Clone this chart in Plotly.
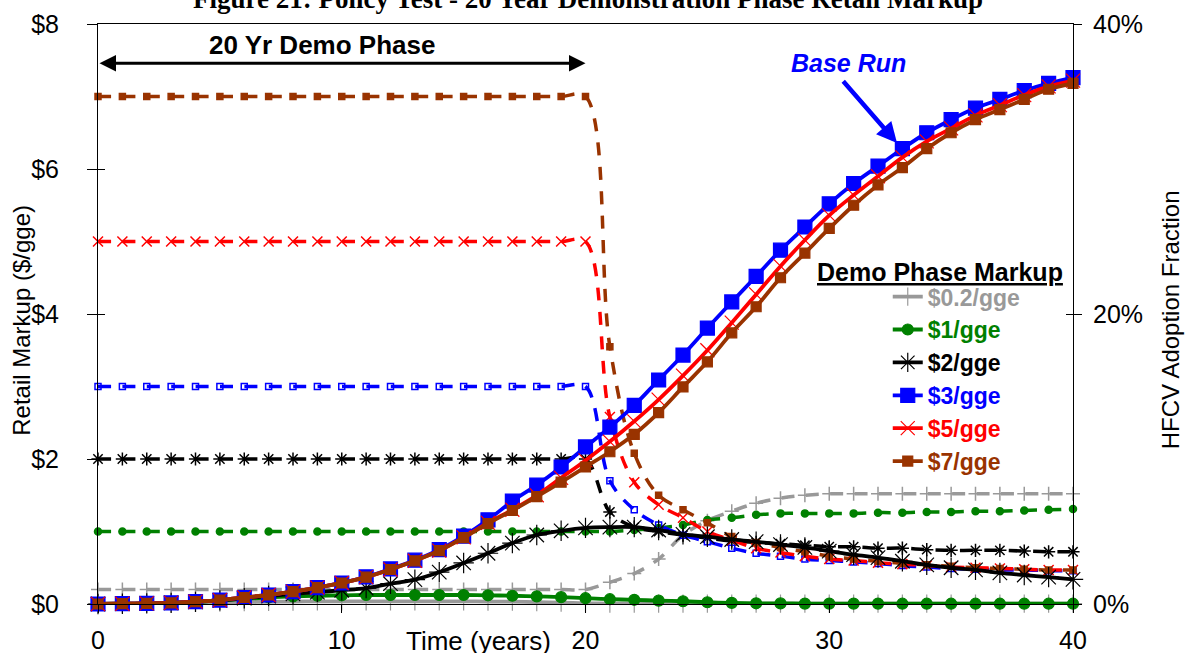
import plotly.graph_objects as go

# ---------------- data ----------------
years = list(range(41))
demo_years = 20

scenario_names = ["$0.2/gge", "$1/gge", "$2/gge", "$3/gge", "$5/gge", "$7/gge"]

# Retail markup ($/gge), left axis (dashed lines)
markup_02 = [0.20, 0.20, 0.20, 0.20, 0.20, 0.20, 0.20, 0.20, 0.20, 0.20, 0.20,
             0.20, 0.20, 0.20, 0.20, 0.20, 0.20, 0.20, 0.20, 0.20, 0.20,
             0.30, 0.42, 0.62, 0.95, 1.15, 1.28, 1.39, 1.46, 1.50, 1.52,
             1.52, 1.52, 1.52, 1.52, 1.52, 1.52, 1.52, 1.52, 1.52, 1.52]
markup_1 = [1.00, 1.00, 1.00, 1.00, 1.00, 1.00, 1.00, 1.00, 1.00, 1.00, 1.00,
            1.00, 1.00, 1.00, 1.00, 1.00, 1.00, 1.00, 1.00, 1.00, 1.00,
            1.00, 1.02, 1.05, 1.09, 1.16, 1.19, 1.23, 1.25, 1.25, 1.25,
            1.25, 1.26, 1.26, 1.27, 1.27, 1.28, 1.28, 1.29, 1.30, 1.31]
markup_2 = [2.00, 2.00, 2.00, 2.00, 2.00, 2.00, 2.00, 2.00, 2.00, 2.00, 2.00,
            2.00, 2.00, 2.00, 2.00, 2.00, 2.00, 2.00, 2.00, 2.00, 2.00,
            1.27, 1.06, 1.00, 0.95, 0.91, 0.87, 0.85, 0.83, 0.81, 0.79,
            0.79, 0.77, 0.77, 0.75, 0.74, 0.74, 0.74, 0.73, 0.72, 0.72]
markup_3 = [3.00, 3.00, 3.00, 3.00, 3.00, 3.00, 3.00, 3.00, 3.00, 3.00, 3.00,
            3.00, 3.00, 3.00, 3.00, 3.00, 3.00, 3.00, 3.00, 3.00, 3.00,
            1.70, 1.30, 1.09, 0.95, 0.86, 0.77, 0.70, 0.66, 0.62, 0.60,
            0.58, 0.56, 0.53, 0.51, 0.49, 0.48, 0.47, 0.47, 0.46, 0.46]
markup_5 = [5.00, 5.00, 5.00, 5.00, 5.00, 5.00, 5.00, 5.00, 5.00, 5.00, 5.00,
            5.00, 5.00, 5.00, 5.00, 5.00, 5.00, 5.00, 5.00, 5.00, 5.00,
            2.58, 1.68, 1.37, 1.19, 1.00, 0.88, 0.77, 0.71, 0.66, 0.62,
            0.60, 0.57, 0.55, 0.53, 0.51, 0.50, 0.49, 0.48, 0.47, 0.47]
markup_7 = [7.00, 7.00, 7.00, 7.00, 7.00, 7.00, 7.00, 7.00, 7.00, 7.00, 7.00,
            7.00, 7.00, 7.00, 7.00, 7.00, 7.00, 7.00, 7.00, 7.00, 7.00,
            3.55, 2.08, 1.50, 1.30, 1.12, 0.93, 0.85, 0.78, 0.72, 0.66,
            0.62, 0.59, 0.56, 0.54, 0.52, 0.50, 0.49, 0.48, 0.47, 0.47]

# HFCV adoption fraction (%), right axis (solid lines)
adopt_02 = [0.00, 0.01, 0.02, 0.04, 0.07, 0.10, 0.13, 0.15, 0.17, 0.18, 0.18,
            0.18, 0.18, 0.18, 0.18, 0.18, 0.17, 0.16, 0.13, 0.10, 0.05,
            0.03, 0.02, 0.02, 0.02, 0.02, 0.02, 0.02, 0.02, 0.02, 0.02,
            0.02, 0.02, 0.02, 0.02, 0.02, 0.02, 0.02, 0.02, 0.02, 0.02]
adopt_1 = [0.00, 0.02, 0.04, 0.08, 0.15, 0.25, 0.36, 0.45, 0.52, 0.57, 0.60,
           0.62, 0.62, 0.62, 0.62, 0.62, 0.60, 0.57, 0.53, 0.47, 0.40,
           0.33, 0.29, 0.23, 0.19, 0.12, 0.08, 0.05, 0.04, 0.03, 0.03,
           0.03, 0.03, 0.02, 0.02, 0.02, 0.02, 0.02, 0.02, 0.02, 0.02]
adopt_2 = [0.00, 0.02, 0.04, 0.08, 0.15, 0.25, 0.40, 0.55, 0.70, 0.82, 0.95,
           1.10, 1.40, 1.68, 2.20, 2.83, 3.50, 4.20, 4.76, 5.05, 5.25,
           5.30, 5.30, 5.10, 4.80, 4.64, 4.45, 4.30, 4.10, 3.90, 3.65,
           3.40, 3.20, 2.95, 2.70, 2.50, 2.35, 2.15, 2.00, 1.85, 1.70]
adopt_3 = [0.00, 0.02, 0.04, 0.08, 0.16, 0.27, 0.45, 0.62, 0.85, 1.13, 1.45,
           1.87, 2.42, 3.02, 3.75, 4.68, 5.80, 7.10, 8.20, 9.45, 10.83,
           12.20, 13.70, 15.45, 17.17, 19.03, 20.83, 22.60, 24.40, 26.00, 27.60,
           29.00, 30.20, 31.40, 32.50, 33.40, 34.20, 34.80, 35.40, 35.90, 36.30]
adopt_5 = [0.00, 0.02, 0.04, 0.08, 0.16, 0.27, 0.45, 0.62, 0.85, 1.13, 1.45,
           1.85, 2.38, 2.98, 3.68, 4.60, 5.60, 6.50, 7.50, 8.70, 9.90,
           11.20, 12.60, 14.10, 15.75, 17.50, 19.40, 21.35, 23.30, 25.10, 26.80,
           28.20, 29.50, 30.80, 31.90, 32.80, 33.70, 34.40, 35.10, 35.70, 36.10]
adopt_7 = [0.00, 0.02, 0.04, 0.08, 0.16, 0.27, 0.45, 0.62, 0.85, 1.13, 1.45,
           1.85, 2.38, 2.98, 3.68, 4.58, 5.55, 6.45, 7.40, 8.40, 9.45,
           10.50, 11.70, 13.20, 14.97, 16.70, 18.70, 20.50, 22.50, 24.20, 25.90,
           27.50, 28.90, 30.10, 31.40, 32.50, 33.40, 34.10, 34.80, 35.50, 35.90]

markups = [markup_02, markup_1, markup_2, markup_3, markup_5, markup_7]
adoptions = [adopt_02, adopt_1, adopt_2, adopt_3, adopt_5, adopt_7]

# ---------------- styles ----------------
colors = ["#999999", "#008000", "#000000", "#0000FF", "#FF0000", "#993300"]
markup_symbols = ["cross-thin-open", "circle", "asterisk-open", "square-open", "x-thin-open", "square"]
markup_sizes = [10, 7, 11, 6, 10, 6]
adopt_symbols = ["cross-thin-open", "circle", "asterisk-open", "square", "x-thin-open", "square"]
adopt_sizes = [13, 11, 17, 14, 14, 10]
FONT = "Liberation Sans, Arial, sans-serif"

fig = go.Figure()

for i in range(6):
    fig.add_trace(go.Scatter(
        x=years, y=markups[i], yaxis="y", mode="lines+markers",
        line=dict(color=colors[i], width=3.5, dash="13px,11.4px", shape="spline"),
        marker=dict(symbol=markup_symbols[i], size=markup_sizes[i], color=colors[i],
                    line=dict(color=colors[i], width=1.5)),
        showlegend=False, cliponaxis=False, hoverinfo="skip"))

for i in range(6):
    fig.add_trace(go.Scatter(
        x=years, y=adoptions[i], yaxis="y2", mode="lines+markers",
        name='<span style="color:%s"><b>%s</b></span>' % (colors[i], scenario_names[i]),
        legendgroup="g%d" % i,
        line=dict(color=colors[i], width=3.8, shape="spline"),
        marker=dict(symbol=adopt_symbols[i], size=adopt_sizes[i], color=colors[i],
                    line=dict(color=colors[i], width=1.2)),
        cliponaxis=False, hoverinfo="skip"))

# empty helper traces so the inside halves of the cross ticks get drawn
fig.add_trace(go.Scatter(x=[], y=[], yaxis="y3", showlegend=False, hoverinfo="skip"))
fig.add_trace(go.Scatter(x=[], y=[], yaxis="y4", showlegend=False, hoverinfo="skip"))

axis_common = dict(showgrid=False, zeroline=False, linecolor="black", linewidth=1,
                   tickcolor="black", tickwidth=1, automargin=False)

fig.update_layout(
    width=1185, height=653,
    margin=dict(l=98, r=112, t=24, b=49, autoexpand=False),
    paper_bgcolor="white", plot_bgcolor="white",
    font=dict(family=FONT, size=25, color="black"),
    xaxis=dict(range=[0, 40], dtick=10, showline=True, mirror=True,
               ticks="outside", ticklen=8, ticklabelstandoff=6,
               tickfont=dict(size=25), **axis_common),
    yaxis=dict(range=[0, 8], dtick=2, tickprefix="$", showline=True,
               ticks="outside", ticklen=10, ticklabelstandoff=23,
               tickfont=dict(size=25), **axis_common),
    yaxis2=dict(range=[0, 40], dtick=20, ticksuffix="%", overlaying="y", side="right",
                showline=True, ticks="outside", ticklen=8, ticklabelstandoff=6,
                tickfont=dict(size=25), **axis_common),
    yaxis3=dict(range=[0, 8], dtick=2, overlaying="y", side="left", showline=False,
                ticks="inside", ticklen=7, showticklabels=False, automargin=False,
                showgrid=False, zeroline=False, tickcolor="black"),
    yaxis4=dict(range=[0, 40], dtick=20, overlaying="y", side="right", showline=False,
                ticks="inside", ticklen=7, showticklabels=False, automargin=False,
                showgrid=False, zeroline=False, tickcolor="black"),
    legend=dict(x=0.810, y=0.567, xanchor="left", yanchor="top",
                bgcolor="rgba(0,0,0,0)", font=dict(family=FONT, size=23),
                tracegroupgap=0, traceorder="normal"),
    showlegend=True,
)

annotations = [
    dict(text="<b>Figure 21: Policy Test - 20 Year Demonstration Phase Retail Markup</b>",
         xref="paper", yref="paper", x=0.5026, y=1.0431, xanchor="center", yanchor="middle",
         showarrow=False, font=dict(family="Liberation Serif, Times New Roman, serif", size=27)),
    dict(text="<b>20 Yr Demo Phase</b>", xref="x", yref="y", x=9.2, y=7.71,
         xanchor="center", yanchor="middle", showarrow=False, font=dict(size=26)),
    dict(text="", xref="x", yref="y", x=demo_years, y=7.46, axref="x", ayref="y", ax=0, ay=7.46,
         showarrow=True, arrowhead=2, startarrowhead=2, arrowside="end+start",
         arrowwidth=3, arrowsize=1.1, startarrowsize=1.1, arrowcolor="black", standoff=0, startstandoff=0),
    dict(text="<b><i>Base Run</i></b>", xref="x", yref="y", x=30.77, y=7.46,
         xanchor="center", yanchor="middle", showarrow=False, font=dict(size=25, color="#0000FF")),
    dict(text="", xref="x", yref="y", x=32.78, y=6.36, axref="x", ayref="y", ax=30.52, ay=7.23,
         showarrow=True, arrowhead=2, arrowwidth=4.5, arrowsize=0.9, arrowcolor="#0000FF", standoff=0),
    dict(text="<b><u>Demo Phase Markup</u></b>", xref="paper", yref="paper", x=0.8636, y=0.5724,
         xanchor="center", yanchor="middle", showarrow=False, font=dict(size=25)),
    dict(text="Time (years)", xref="x", yref="paper", x=15.6, y=-0.0638,
         xanchor="center", yanchor="middle", showarrow=False, font=dict(size=26)),
    dict(text="Retail Markup ($/gge)", xref="paper", yref="paper", x=-0.078, y=0.49,
         xanchor="center", yanchor="middle", textangle=-90, showarrow=False, font=dict(size=24)),
    dict(text="HFCV Adoption Fraction", xref="paper", yref="paper", x=1.1, y=0.49,
         xanchor="center", yanchor="middle", textangle=-90, showarrow=False, font=dict(size=24)),
]
fig.update_layout(annotations=annotations)

fig.write_html("out.html")
